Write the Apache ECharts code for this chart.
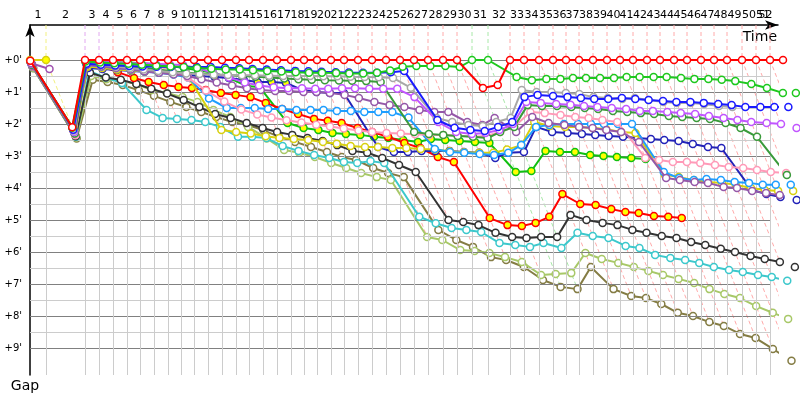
<!DOCTYPE html>
<html><head><meta charset="utf-8">
<script src="https://cdn.jsdelivr.net/npm/echarts@6/dist/echarts.min.js"></script>
<style>html,body{margin:0;padding:0;background:#fff}#c{width:800px;height:400px}</style>
</head><body><div id="c"></div>
<script>
// leader's elapsed time (minutes) at the end of each lap, index = lap (0 = start)
const lapEnd = [0,1.28,4.40,5.52,6.64,7.76,8.80,9.92,11.04,12.08,13.12,14.24,15.36,16.48,17.52,18.64,19.76,20.88,21.92,22.96,24.08,25.12,26.24,27.36,28.48,29.60,30.72,31.84,33.04,34.16,35.36,36.64,38.40,39.52,40.72,41.84,42.88,43.92,45.04,46.16,47.20,48.24,49.36,50.40,51.52,52.56,53.68,54.72,55.76,56.96,58.08,59.20,60.24];
const lapLabels = [1,2,3,4,5,6,7,8,9,10,11,12,13,14,15,16,17,18,19,20,21,22,23,24,25,26,27,28,29,30,31,32,33,34,35,36,37,38,39,40,41,42,43,44,45,46,47,48,49,50,51,52];
const gapTicks = [0,1,2,3,4,5,6,7,8,9];

// gap to leader (minutes) at the end of each of the car's own laps, index = lap
const carRed = [0.02,2.10, 0,0,0,0,0,0,0,0,0,0, 0,0,0,0,0,0,0,0,0,0, 0,0,0,0,0,0,0,0, 0.875,0.78, 0,0,0,0,0,0,0,0,0,0, 0,0,0,0,0,0,0,0,0,0, 0];
const carGreen = [0.04,2.12, 0.05,0.08,0.10,0.12,0.15,0.18,0.20,0.22,0.25,0.27, 0.30,0.30,0.32,0.34,0.36,0.38,0.40,0.40,0.41,0.42, 0.42,0.40,0.33,0.21,0.19,0.19,0.19,0.22, 0,0, 0.53,0.63,0.59,0.59,0.56,0.56,0.56,0.56,0.53,0.53, 0.53,0.53,0.56,0.59,0.59,0.62,0.66,0.75,0.875,1.03, 1.03];
const carBlue = [0.08,2.18, 0.12,0.15,0.17,0.19,0.20,0.21,0.22,0.22,0.22,0.22, 0.24,0.26,0.28,0.30,0.32,0.34,0.35,0.37,0.38,0.39, 0.40,0.40,0.38,0.34, 1.875,2.12,2.19,2.22,2.09,1.94, 1.16,1.09,1.125,1.16,1.19,1.22,1.22,1.19,1.22,1.25, 1.28,1.31,1.31,1.34,1.375,1.41,1.47,1.47,1.47,1.47];
const carGray = [0.10,2.20, 0.10,0.15,0.20,0.25,0.30,0.34,0.38,0.42,0.44,0.46, 0.47,0.48,0.48,0.49,0.50,0.50,0.50,0.51,0.51,0.52, 0.53,0.54,0.56,0.87, 1.81,1.94,2.03,2.06,1.94,1.81, 0.94,1.00,1.00,1.03,1.06,1.16,1.19,1.22,1.19,1.25, 1.31,1.34,1.34,1.375,1.44,1.47];
const carMagenta = [0.12,2.25, 0.03,0.05,0.07,0.09,0.10,0.12,0.14,0.16,0.25,0.40, 0.55,0.70,0.80,0.85,0.88,0.88,0.90,0.90,0.88,0.88, 0.90,0.90,0.90,1.16, 1.94,2.25,2.31,2.28,2.19,2.00, 1.31,1.34,1.375,1.40,1.44,1.47,1.50,1.53,1.59,1.59, 1.625,1.66,1.69,1.75,1.81,1.875,1.94,1.97,2.00,2.125];
const carDarkGreen = [0.15,2.30, 0.08,0.12,0.15,0.20,0.25,0.30,0.35,0.40,0.42,0.45, 0.47,0.50,0.52,0.55,0.58,0.60,0.62,0.63,0.64,0.65, 0.66,0.69,2.25,2.31, 2.34,2.375,2.40,2.44,2.25,2.09, 1.41,1.44,1.44,1.47,1.50,1.53,1.59,1.625,1.66,1.69, 1.75,1.78,1.81,1.84,1.97,2.125,2.40,3.59];
const carPurple = [0.18,2.30, 0.15,0.20,0.25,0.30,0.35,0.40,0.45,0.50,0.60,0.70, 0.80,0.88,0.94,0.97,0.97,1.00,1.00,1.03,1.09,1.19, 1.31,1.41,1.47,1.56, 1.625,1.625,1.94,2.03,1.81,2.25, 1.78,1.97,2.03,2.09,2.125,2.19,2.25,2.56,3.69,3.75, 3.81,3.84,3.97,4.00,4.09,4.16,4.22];
const carPink = [0.20,2.35, 0.05,0.08,0.10,0.13,0.16,0.20,0.30,0.55,0.95,1.30, 1.55,1.70,1.80,1.88,1.95,2.02,2.08,2.14,2.20,2.25, 2.28,2.30,2.32,2.34, 2.34,2.36,2.40,2.375,2.25,2.09, 1.625,1.66,1.72,1.78,1.81,1.875,1.94,3.06,3.125,3.19, 3.19,3.22,3.28,3.34,3.375,3.44,3.50,3.53];
const carSky = [0.14,2.28, 0.15,0.20,0.25,0.30,0.35,0.40,0.45,0.55,1.20,1.50, 1.50,1.50,1.53,1.53,1.56,1.56,1.56,1.59,1.59,1.625, 1.625,1.625,1.80,2.78, 2.875,2.90,2.94,2.97,2.90,2.66, 2.09,2.03,2.00,2.00,2.00,2.00,2.00,2.00,3.50,3.69, 3.75,3.72,3.75,3.81,3.84,3.90,3.90,3.90];
const carYellow = [0.16,2.32, 0.20,0.25,0.30,0.33,0.36,0.39,0.42,0.45,2.19,2.25, 2.30,2.38,2.44,2.47,2.50,2.56,2.62,2.69,2.72,2.72, 2.75,2.75,2.78,2.80, 2.85,2.88,2.90,2.90,2.80,2.66, 1.94,2.06,2.09,2.09,2.125,2.16,2.25,2.28,3.59,3.66, 3.75,3.81,3.84,3.90,4.00,4.06,4.09,4.09];
const carNavy = [0.06,2.15, 0.25,0.28,0.31,0.34,0.37,0.40,0.43,0.46,0.50,0.53, 0.56,0.625,0.69,0.69,0.72,0.94,1.00,1.03,1.03,2.72, 2.875,2.875,2.84,2.84, 2.84,2.875,2.90,3.06,2.90,2.875, 2.09,2.25,2.28,2.31,2.34,2.375,2.40,2.44,2.47,2.50, 2.53,2.625,2.72,2.75,4.06,4.19,4.28,4.375];
const carRedY = [0.05,2.20, 0.08,0.20,0.38,0.56,0.69,0.78,0.84,0.875,0.94,1.03, 1.09,1.16,1.34,1.53,1.69,1.84,1.90,1.97,2.125,2.25, 2.40,2.59,2.75,3.03, 3.19,4.94,5.16,5.19,5.09,4.90, 4.19,4.50,4.53,4.66,4.75,4.78,4.875,4.90,4.94];
const carGreenY = [0.07,2.10, 0.06,0.06,0.07,0.08,0.10,0.13,0.19,0.25,0.32,0.40, 0.56,0.81,0.84,1.97,2.125,2.19,2.28,2.31,2.34,2.40, 2.44,2.50,2.56,2.47, 2.50,2.53,2.56,2.59,3.50,3.47, 2.84,2.875,2.875,2.97,3.00,3.03,3.06,3.09];
const carBlack = [0.20,2.38, 0.40,0.55,0.62,0.75,0.90,1.05,1.25,1.47,1.69,1.81, 1.97,2.125,2.25,2.34,2.44,2.53,2.66,2.84,2.90,3.06, 3.28,3.50,5.00,5.06, 5.16,5.40,5.53,5.56,5.53,5.53, 4.84,5.00,5.09,5.16,5.31,5.40,5.50,5.56,5.69,5.78, 5.90,6.00,6.125,6.22,6.31,6.47];
const carCyan = [0.22,2.40, 0.35,0.55,0.72,1.56,1.81,1.84,1.875,1.94,2.09,2.40, 2.40,2.44,2.69,2.84,2.97,3.06,3.19,3.22,3.16,3.22, 4.90,5.10,5.25,5.31, 5.375,5.72,5.78,5.84,5.72,5.875, 5.40,5.50,5.56,5.81,5.875,6.09,6.19,6.25,6.34,6.47, 6.56,6.625,6.72,6.78,6.90];
const carLightOlive = [0.24,2.42, 0.50,0.60,0.65,0.75,0.94,1.03,1.16,1.31,1.56,1.78, 2.09,2.45,2.81,2.90,3.03,3.22,3.375,3.53,3.66,3.75, 5.53,5.625,5.94,5.97, 6.03,6.16,6.31,6.72,6.69,6.66, 6.03,6.22,6.34,6.47,6.59,6.72,6.84,6.97,7.16,7.31, 7.44,7.69,7.90,8.09];
const carOlive = [0.26,2.45, 0.62,0.69,0.78,0.95,1.12,1.31,1.47,1.625,1.78,1.94, 2.03,2.19,2.40,2.56,2.72,2.875,3.03,3.125,3.375,3.53, 3.66,5.31,5.625,5.84, 6.16,6.25,6.47,6.875,7.09,7.16, 6.47,7.16,7.375,7.44,7.625,7.90,8.00,8.19,8.31,8.56, 8.69,9.03,9.40];
const carYellowShort = [0.00,0.00];
const carPurpleShort = [0.10,0.28];

// ---- styling (not data) ----
const cars = [
  {g: carOlive, c:'#847c44'},
  {g: carLightOlive, c:'#a8c868'},
  {g: carCyan, c:'#3cc8cc'},
  {g: carBlack, c:'#333333'},
  {g: carGreenY, c:'#10c010', y: 99},
  {g: carRedY, c:'#ff0000', y: 99},
  {g: carNavy, c:'#2222b8', y: 17},
  {g: carYellow, c:'#d8d010'},
  {g: carSky, c:'#1e9eff'},
  {g: carPink, c:'#ff9ab8'},
  {g: carPurple, c:'#9558a8'},
  {g: carDarkGreen, c:'#3a9a3a'},
  {g: carMagenta, c:'#c155ff'},
  {g: carGray, c:'#a8a8a8'},
  {g: carBlue, c:'#1a1aff'},
  {g: carGreen, c:'#1ec81e'},
  {g: carPurpleShort, c:'#a050b0'},
  {g: carYellowShort, c:'#d8d010', y: 99},
  {g: carRed, c:'#ff0000'}
];

const Y_MIN = -35/32, Y_MAX = 315/32;
const X_MAX = 748/12.5;

const series = [];

// grid lines via markLine
const gl = [];
for (let v = 0; v <= 9; v += 0.5) {
  gl.push([{coord:[0, v], lineStyle:{color: v % 1 === 0 ? '#808080' : '#cccccc', width:1, type:'solid'}}, {coord:[lapEnd[51], v]}]);
}
for (let k = 1; k <= 51; k++) {
  gl.push([{coord:[lapEnd[k], 0], lineStyle:{color:'#cccccc', width:1, type:'solid'}}, {coord:[lapEnd[k], Y_MAX]}]);
}
series.push({type:'line', data:[[0,0]], showSymbol:false, lineStyle:{width:0}, silent:true, z:0,
  markLine:{silent:true, symbol:['none','none'], label:{show:false}, animation:false, data: gl}});

// lap reference lines: vertical to the leader, then the diagonal through every car on that lap
for (let k = 1; k < lapEnd.length; k++) {
  let G = 0;
  cars.forEach(cr => { if (cr.g.length > k) G = Math.max(G, cr.g[k]); });
  let col = '#ffaaaa';
  if (k === 1) col = '#f2f080';
  else if (k === 2 || k === 3) col = '#e2a8f0';
  else if (k === 30 || k === 31) col = '#a8e8a8';
  series.push({type:'line', silent:true, showSymbol:false, clip:false, z:1,
    lineStyle:{color:col, width:1, type:[4,3]},
    data:[[lapEnd[k], Y_MIN], [lapEnd[k], 0], [lapEnd[k] + G, G]]});
}

// cars
cars.forEach((cr, idx) => {
  series.push({type:'line', clip:false, z:3 + idx, symbol:'circle', symbolSize:7, showAllSymbol:true,
    lineStyle:{color:cr.c, width:2},
    itemStyle:{color:'#ffffff', borderColor:cr.c, borderWidth:1.5},
    data: cr.g.map((g, i) => ({value:[lapEnd[i] + g, g], itemStyle: (cr.y !== undefined && i <= cr.y) ? {color:'#ffff00'} : undefined}))
  });
});

const mids = lapLabels.map(k => Math.min((lapEnd[k-1] + lapEnd[k]) / 2, X_MAX - 1.0));
const lastLab = lapLabels.length - 1;
const labelOf = v => { const i = mids.findIndex(m => Math.abs(m - v) < 1e-6); return i >= 0 ? String(lapLabels[i]) : ''; };

const chart = echarts.init(document.getElementById('c'), null, {renderer:'canvas'});
chart.setOption({
  animation:false,
  backgroundColor:'#ffffff',
  textStyle:{fontFamily:'DejaVu Sans'},
  grid:{left:30, top:25, width:748, height:350},
  xAxis:[{type:'value', position:'top', min:0, max:X_MAX,
    axisLine:{show:true, onZero:false, lineStyle:{color:'#000', width:1.5}, symbol:['none','arrow'], symbolSize:[7,13]},
    axisTick:{show:false}, splitLine:{show:false},
    axisLabel:{customValues:mids.slice(0, lastLab), hideOverlap:false, showMinLabel:true, showMaxLabel:true, margin:4, fontSize:11, color:'#000', formatter: labelOf},
    name:'Time', nameLocation:'end', nameGap:0,
    nameTextStyle:{fontSize:14, color:'#000', align:'right', verticalAlign:'top', padding:[5,1,0,0]}
  },{type:'value', position:'top', min:0, max:X_MAX,
    axisLine:{show:false}, axisTick:{show:false}, splitLine:{show:false},
    axisLabel:{customValues:[mids[lastLab]], hideOverlap:false, showMinLabel:true, showMaxLabel:true, margin:4, fontSize:11, color:'#000', formatter: labelOf}
  }],
  yAxis:{type:'value', inverse:true, min:Y_MIN, max:Y_MAX,
    axisLine:{show:true, onZero:false, lineStyle:{color:'#000', width:1.5}, symbol:['none','arrow'], symbolSize:[7,12]},
    axisTick:{show:false}, splitLine:{show:false},
    axisLabel:{customValues:gapTicks, hideOverlap:false, margin:8, fontSize:10, color:'#000', formatter: v => '+' + v + "'"},
    name:'Gap', nameLocation:'end', nameGap:4,
    nameTextStyle:{fontSize:14, color:'#000', align:'center', verticalAlign:'top', padding:[0,10,0,0]}
  },
  series: series
});
</script>
</body></html>
